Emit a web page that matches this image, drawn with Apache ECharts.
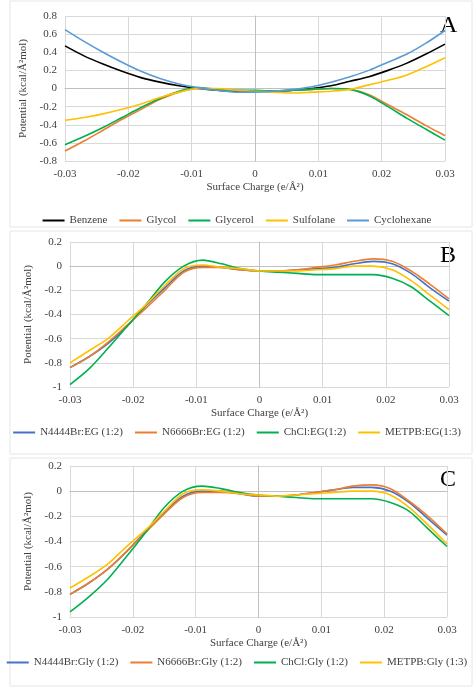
<!DOCTYPE html>
<html>
<head>
<meta charset="UTF-8">
<title>Potential vs surface charge</title>
<script src="https://cdn.jsdelivr.net/npm/echarts@6/dist/echarts.min.js"></script>
<style>body{margin:0;background:#fff}</style>
</head>
<body>
<div id="main" style="width:474px;height:687px;"></div>
<script type="text/javascript">
// surface charge, e/A^2
var charge = [-0.03,-0.027,-0.024,-0.021,-0.018,-0.015,-0.012,-0.009,-0.006,-0.003,0,0.003,0.006,0.009,0.012,0.015,0.018,0.021,0.024,0.027,0.03];

// panel A
var namesA = ['Benzene','Glycol','Glycerol','Sulfolane','Cyclohexane'];
var benzene = [0.47,0.36,0.27,0.19,0.12,0.07,0.03,0.0,-0.02,-0.03,-0.03,-0.03,-0.02,0.0,0.03,0.08,0.13,0.2,0.28,0.38,0.49];
var glycol = [-0.69,-0.58,-0.46,-0.34,-0.23,-0.12,-0.04,0,-0.01,-0.02,-0.03,-0.03,-0.02,-0.01,0,-0.01,-0.07,-0.18,-0.29,-0.41,-0.52];
var glycerol = [-0.62,-0.53,-0.43,-0.32,-0.21,-0.11,-0.03,0.01,-0.01,-0.02,-0.02,-0.03,-0.02,-0.01,0,-0.01,-0.08,-0.2,-0.33,-0.45,-0.57];
var sulfolane = [-0.35,-0.32,-0.28,-0.23,-0.17,-0.1,-0.04,0,0,-0.02,-0.03,-0.04,-0.05,-0.04,-0.03,-0.01,0.04,0.09,0.15,0.24,0.34];
var cyclohexane = [0.65,0.52,0.4,0.29,0.19,0.11,0.05,0.01,-0.02,-0.04,-0.04,-0.03,-0.01,0.02,0.07,0.13,0.2,0.29,0.38,0.5,0.64];

// panel B
var namesB = ['N4444Br:EG (1:2)','N6666Br:EG (1:2)','ChCl:EG(1:2)','METPB:EG(1:3)'];
var n4444EG = [-0.84,-0.75,-0.64,-0.5,-0.33,-0.18,-0.04,0,-0.01,-0.03,-0.04,-0.04,-0.03,-0.02,-0.01,0.02,0.04,0.02,-0.06,-0.18,-0.29];
var n6666EG = [-0.84,-0.75,-0.63,-0.49,-0.35,-0.2,-0.05,-0.01,-0.01,-0.03,-0.04,-0.04,-0.03,-0.01,0.01,0.04,0.06,0.04,-0.04,-0.15,-0.27];
var chclEG = [-0.98,-0.85,-0.68,-0.5,-0.32,-0.13,0.0,0.05,0.02,-0.02,-0.04,-0.05,-0.06,-0.07,-0.07,-0.07,-0.07,-0.1,-0.17,-0.29,-0.41];
var metpbEG = [-0.8,-0.7,-0.6,-0.46,-0.32,-0.16,-0.02,0.01,-0.01,-0.02,-0.04,-0.04,-0.04,-0.03,-0.02,0,0,-0.03,-0.12,-0.24,-0.36];

// panel C
var namesC = ['N4444Br:Gly (1:2)','N6666Br:Gly (1:2)','ChCl:Gly (1:2)','METPB:Gly (1:3)'];
var n4444Gly = [-0.82,-0.73,-0.62,-0.48,-0.32,-0.17,-0.04,0,0,-0.02,-0.04,-0.04,-0.03,-0.01,0.01,0.03,0.03,0.0,-0.09,-0.22,-0.35];
var n6666Gly = [-0.82,-0.73,-0.62,-0.48,-0.33,-0.18,-0.05,-0.01,-0.01,-0.02,-0.04,-0.04,-0.03,-0.01,0.01,0.04,0.05,0.02,-0.08,-0.2,-0.34];
var chclGly = [-0.96,-0.84,-0.7,-0.52,-0.33,-0.13,0.0,0.04,0.02,-0.01,-0.03,-0.04,-0.05,-0.06,-0.06,-0.06,-0.06,-0.09,-0.16,-0.3,-0.44];
var metpbGly = [-0.77,-0.68,-0.58,-0.44,-0.31,-0.16,-0.02,0.01,0,-0.02,-0.03,-0.04,-0.03,-0.02,-0.01,0,0,-0.03,-0.13,-0.27,-0.42];

var colorsA = ['#000000','#ED7D31','#00B050','#FFC000','#5B9BD5'];
var colorsBC = ['#4472C4','#ED7D31','#00B050','#FFC000'];
var font = 'Liberation Serif';

function pairs(ys) {
    return charge.map(function (x, i) { return [x, ys[i]]; });
}
function line(name, ys, idx, color) {
    return {
        name: name, type: 'line', xAxisIndex: idx, yAxisIndex: idx,
        data: pairs(ys), smooth: 0.3, showSymbol: false,
        lineStyle: {width: 1.6, color: color}, itemStyle: {color: color}
    };
}
function xAxis(idx) {
    return {
        type: 'value', gridIndex: idx, min: -0.03, max: 0.03, interval: 0.01,
        name: 'Surface Charge (e/Å²)', nameLocation: 'middle', nameGap: 21,
        nameTextStyle: {fontFamily: font, fontSize: 11, color: '#404040'},
        axisLine: {onZero: true, show: true, lineStyle: {color: '#bfbfbf'}}, axisTick: {show: false},
        axisLabel: {fontFamily: font, fontSize: 11, color: '#404040',
            formatter: function (v) { return v === 0 ? '0' : +v.toFixed(2); }},
        splitLine: {show: true, lineStyle: {color: '#d9d9d9'}}
    };
}
function yAxis(idx, min, max) {
    return {
        type: 'value', gridIndex: idx, min: min, max: max, interval: 0.2,
        name: 'Potential (kcal/Å²mol)', nameLocation: 'middle', nameGap: 32,
        nameTextStyle: {fontFamily: font, fontSize: 11, color: '#404040'},
        axisLine: {show: true, onZero: true, lineStyle: {color: '#bfbfbf'}}, axisTick: {show: false},
        axisLabel: {fontFamily: font, fontSize: 11, color: '#404040',
            formatter: function (v) { return +v.toFixed(1); }},
        splitLine: {lineStyle: {color: '#d9d9d9'}}
    };
}
function legend(idx, names, colors, top) {
    return {
        top: top, left: 'center', itemWidth: 22, itemHeight: 2, itemGap: 12,
        icon: 'rect',
        data: names.map(function (n, i) { return {name: n, itemStyle: {color: colors[i]}}; }),
        textStyle: {fontFamily: font, fontSize: 11, color: '#404040'}
    };
}

var series = [];
[benzene, glycol, glycerol, sulfolane, cyclohexane].forEach(function (d, i) {
    series.push(line(namesA[i], d, 0, colorsA[i]));
});
[n4444EG, n6666EG, chclEG, metpbEG].forEach(function (d, i) {
    series.push(line(namesB[i], d, 1, colorsBC[i]));
});
[n4444Gly, n6666Gly, chclGly, metpbGly].forEach(function (d, i) {
    series.push(line(namesC[i], d, 2, colorsBC[i]));
});

var myChart = echarts.init(document.getElementById('main'));
myChart.setOption({
    animation: false,
    backgroundColor: '#fff',
    grid: [
        {left: 65, right: 29, top: 16, height: 145},
        {left: 70, right: 25, top: 242, height: 145},
        {left: 70, right: 27, top: 466, height: 151}
    ],
    xAxis: [xAxis(0), xAxis(1), xAxis(2)],
    yAxis: [yAxis(0, -0.8, 0.8), yAxis(1, -1, 0.2), yAxis(2, -1, 0.2)],
    legend: [
        legend(0, namesA, colorsA, 210),
        legend(1, namesB, colorsBC, 422),
        legend(2, namesC, colorsBC, 652)
    ],
    graphic: [
        {type: 'rect', shape: {x: 10, y: 1, width: 462, height: 226}, style: {fill: 'none', stroke: '#e6e6e6'}},
        {type: 'rect', shape: {x: 10, y: 231, width: 462, height: 223}, style: {fill: 'none', stroke: '#e6e6e6'}},
        {type: 'rect', shape: {x: 10, y: 458, width: 462, height: 228}, style: {fill: 'none', stroke: '#e6e6e6'}},
        {type: 'text', left: 440, top: 14, style: {text: 'A', font: '24px "Liberation Serif"', fill: '#000'}},
        {type: 'text', left: 440, top: 244, style: {text: 'B', font: '24px "Liberation Serif"', fill: '#000'}},
        {type: 'text', left: 440, top: 468, style: {text: 'C', font: '24px "Liberation Serif"', fill: '#000'}}
    ],
    series: series
});
</script>
</body>
</html>
